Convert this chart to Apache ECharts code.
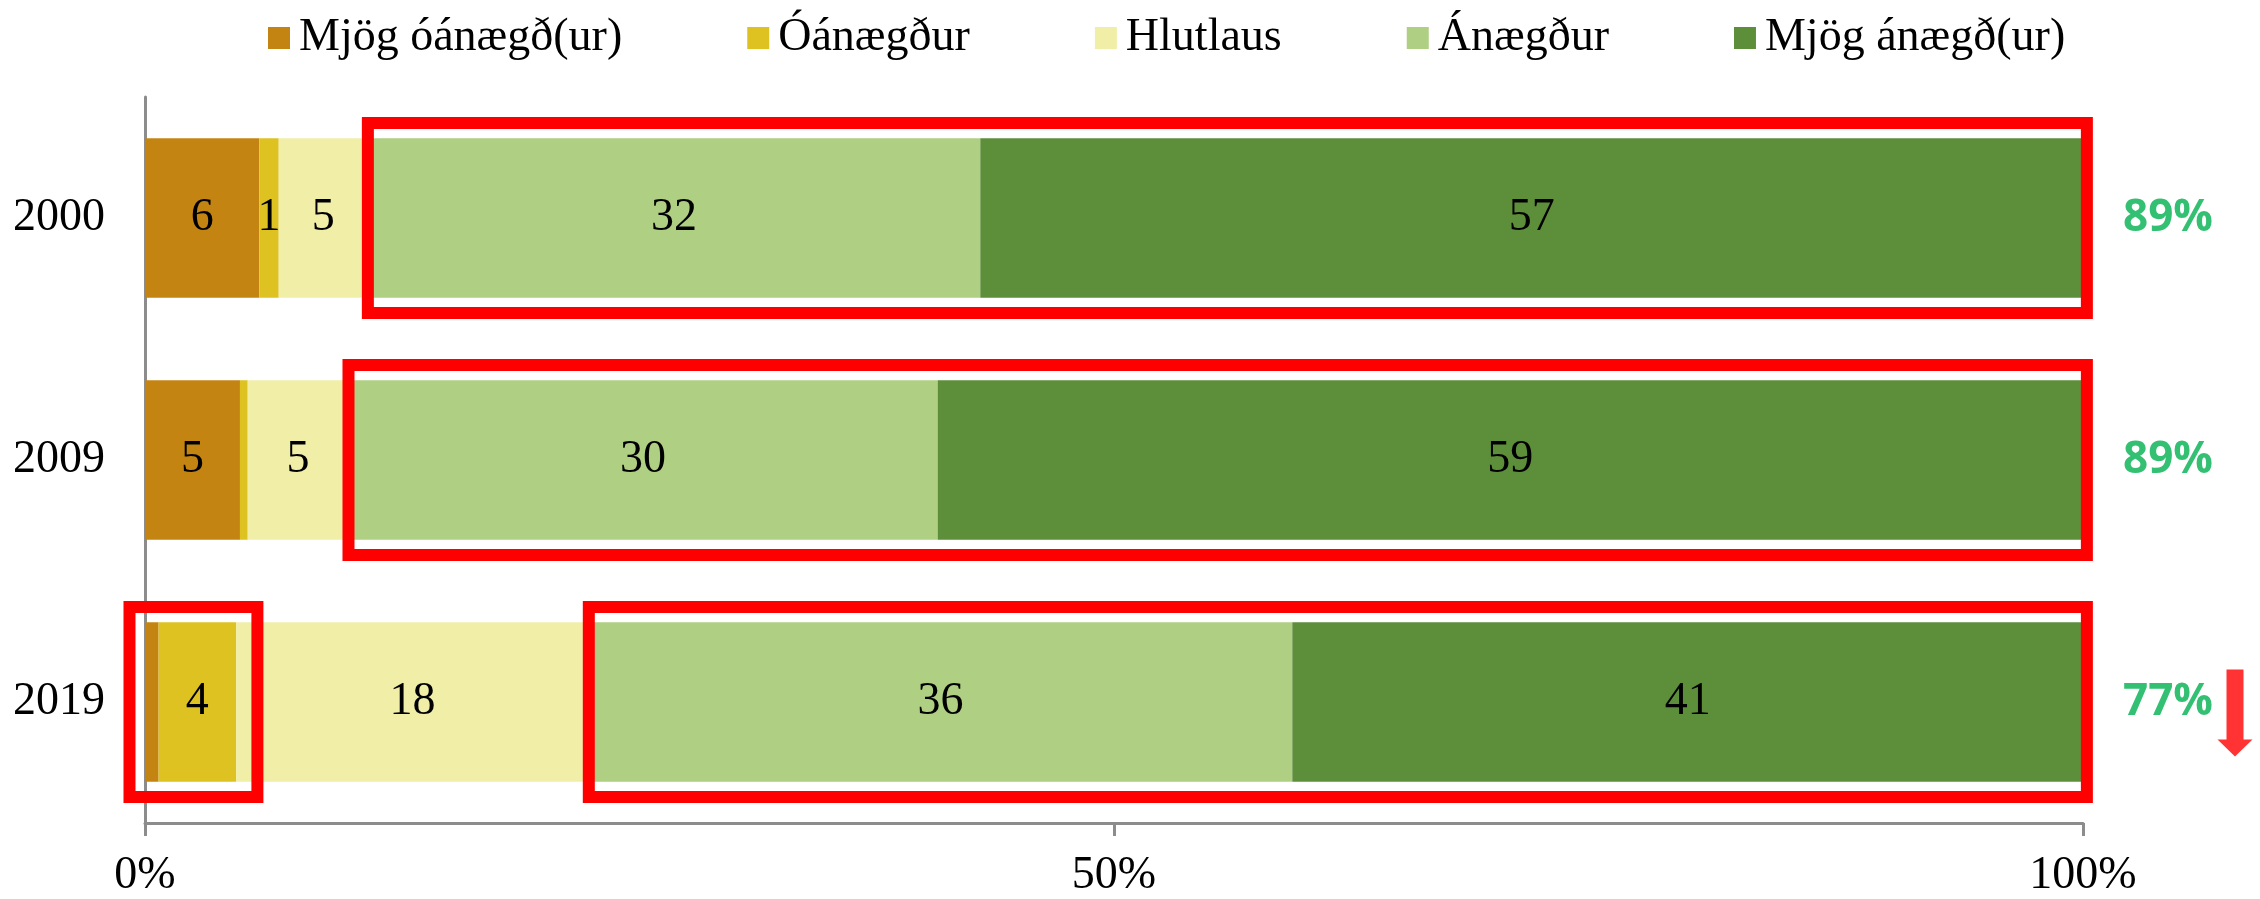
<!DOCTYPE html>
<html>
<head>
<meta charset="utf-8">
<script src="https://cdn.jsdelivr.net/npm/echarts@6/dist/echarts.min.js"></script>
<style>
html,body{margin:0;padding:0;background:#fff;}
#main{width:2260px;height:899px;}
</style>
</head>
<body>
<div id="main"></div>
<script>
// gögn
var years = ['2000', '2009', '2019'];
var seriesNames = ['Mjög óánægð(ur)', 'Óánægður', 'Hlutlaus', 'Ánægður', 'Mjög ánægð(ur)'];
var mjogOanaegd = [5.9, 4.9, 0.7];
var oanaegdur = [1.0, 0.4, 4.0];
var hlutlaus = [4.6, 5.2, 18.2];
var anaegdur = [31.6, 30.4, 36.3];
var mjogAnaegd = [56.9, 59.1, 40.8];
var anaegdSamtals = ['89%', '89%', '77%'];
var xTicks = ['0%', '50%', '100%'];
// rauðir rammar: [ár, frá, til]
var boxes = [['2000', 11.5, 100.2], ['2009', 10.5, 100.2], ['2019', -0.8, 5.8], ['2019', 22.9, 100.2]];

var colors = ['#C48412', '#DEC222', '#F1EEA8', '#AFCF82', '#5D8E3A'];
var serif = '"Liberation Serif", "DejaVu Serif", serif';

function barSeries(name, values, color) {
	return {
		name: name,
		type: 'bar',
		stack: 'total',
		barCategoryGap: '34%',
		itemStyle: {color: color},
		label: {
			show: true,
			position: 'inside',
			color: '#000',
			fontFamily: serif,
			fontSize: 46,
			formatter: function (p) {
				return p.value >= 1 ? Math.round(p.value) : '';
			}
		},
		data: values
	};
}

var myChart = echarts.init(document.getElementById('main'));

var option = {
	animation: false,
	color: colors,
	legend: {
		top: 10,
		left: 263,
		itemWidth: 22,
		itemHeight: 22,
		itemGap: 125,
		icon: 'rect',
		textStyle: {fontFamily: serif, fontSize: 46, color: '#000', padding: [0, 0, 0, 4]},
		data: seriesNames
	},
	grid: {left: 145, right: 177, top: 97, bottom: 76},
	xAxis: {
		type: 'value',
		min: 0,
		max: 100,
		interval: 50,
		axisLine: {show: true, lineStyle: {color: '#8C8C8C', width: 3}},
		axisTick: {show: true, length: 13, lineStyle: {color: '#8C8C8C', width: 3}},
		splitLine: {show: false},
		axisLabel: {
			margin: 30,
			color: '#000',
			fontFamily: serif,
			fontSize: 46,
			formatter: function (v) {
				return xTicks[v / 50];
			}
		}
	},
	yAxis: {
		type: 'category',
		inverse: true,
		data: years,
		axisLine: {show: true, lineStyle: {color: '#8C8C8C', width: 3}},
		axisTick: {show: false},
		axisLabel: {margin: 40, color: '#000', fontFamily: serif, fontSize: 46}
	},
	series: [
		barSeries(seriesNames[0], mjogOanaegd, colors[0]),
		barSeries(seriesNames[1], oanaegdur, colors[1]),
		barSeries(seriesNames[2], hlutlaus, colors[2]),
		barSeries(seriesNames[3], anaegdur, colors[3]),
		barSeries(seriesNames[4], mjogAnaegd, colors[4]),
		{
			type: 'custom',
			name: 'rammar',
			clip: false,
			z: 10,
			encode: {x: [1, 2], y: 0},
			renderItem: function (params, api) {
				var y = api.value(0);
				var p0 = api.coord([api.value(1), y]);
				var p1 = api.coord([api.value(2), y]);
				var h = api.size([0, 1])[1] * 0.785;
				return {
					type: 'rect',
					shape: {x: p0[0], y: p0[1] - h / 2, width: p1[0] - p0[0], height: h},
					style: {fill: 'none', stroke: '#FF0000', lineWidth: 12}
				};
			},
			data: boxes
		},
		{
			type: 'scatter',
			name: 'samtals',
			symbolSize: 0,
			label: {
				show: true,
				position: 'right',
				distance: 40,
				color: '#00B050',
				fontFamily: '"Open Sans", sans-serif',
				fontWeight: 'bold',
				fontSize: 44,
				formatter: function (p) {
					return anaegdSamtals[p.dataIndex];
				}
			},
			data: years.map(function (y) { return [100, y]; })
		},
		{
			type: 'scatter',
			name: 'ör',
			symbol: 'path://M9,0 L26,0 L26,70 L35,70 L17.5,87 L0,70 L9,70 Z',
			symbolSize: [35, 87],
			symbolOffset: [152, 11],
			itemStyle: {color: '#FF0000'},
			data: [[100, '2019']]
		}
	]
};

myChart.setOption(option);
</script>
</body>
</html>
